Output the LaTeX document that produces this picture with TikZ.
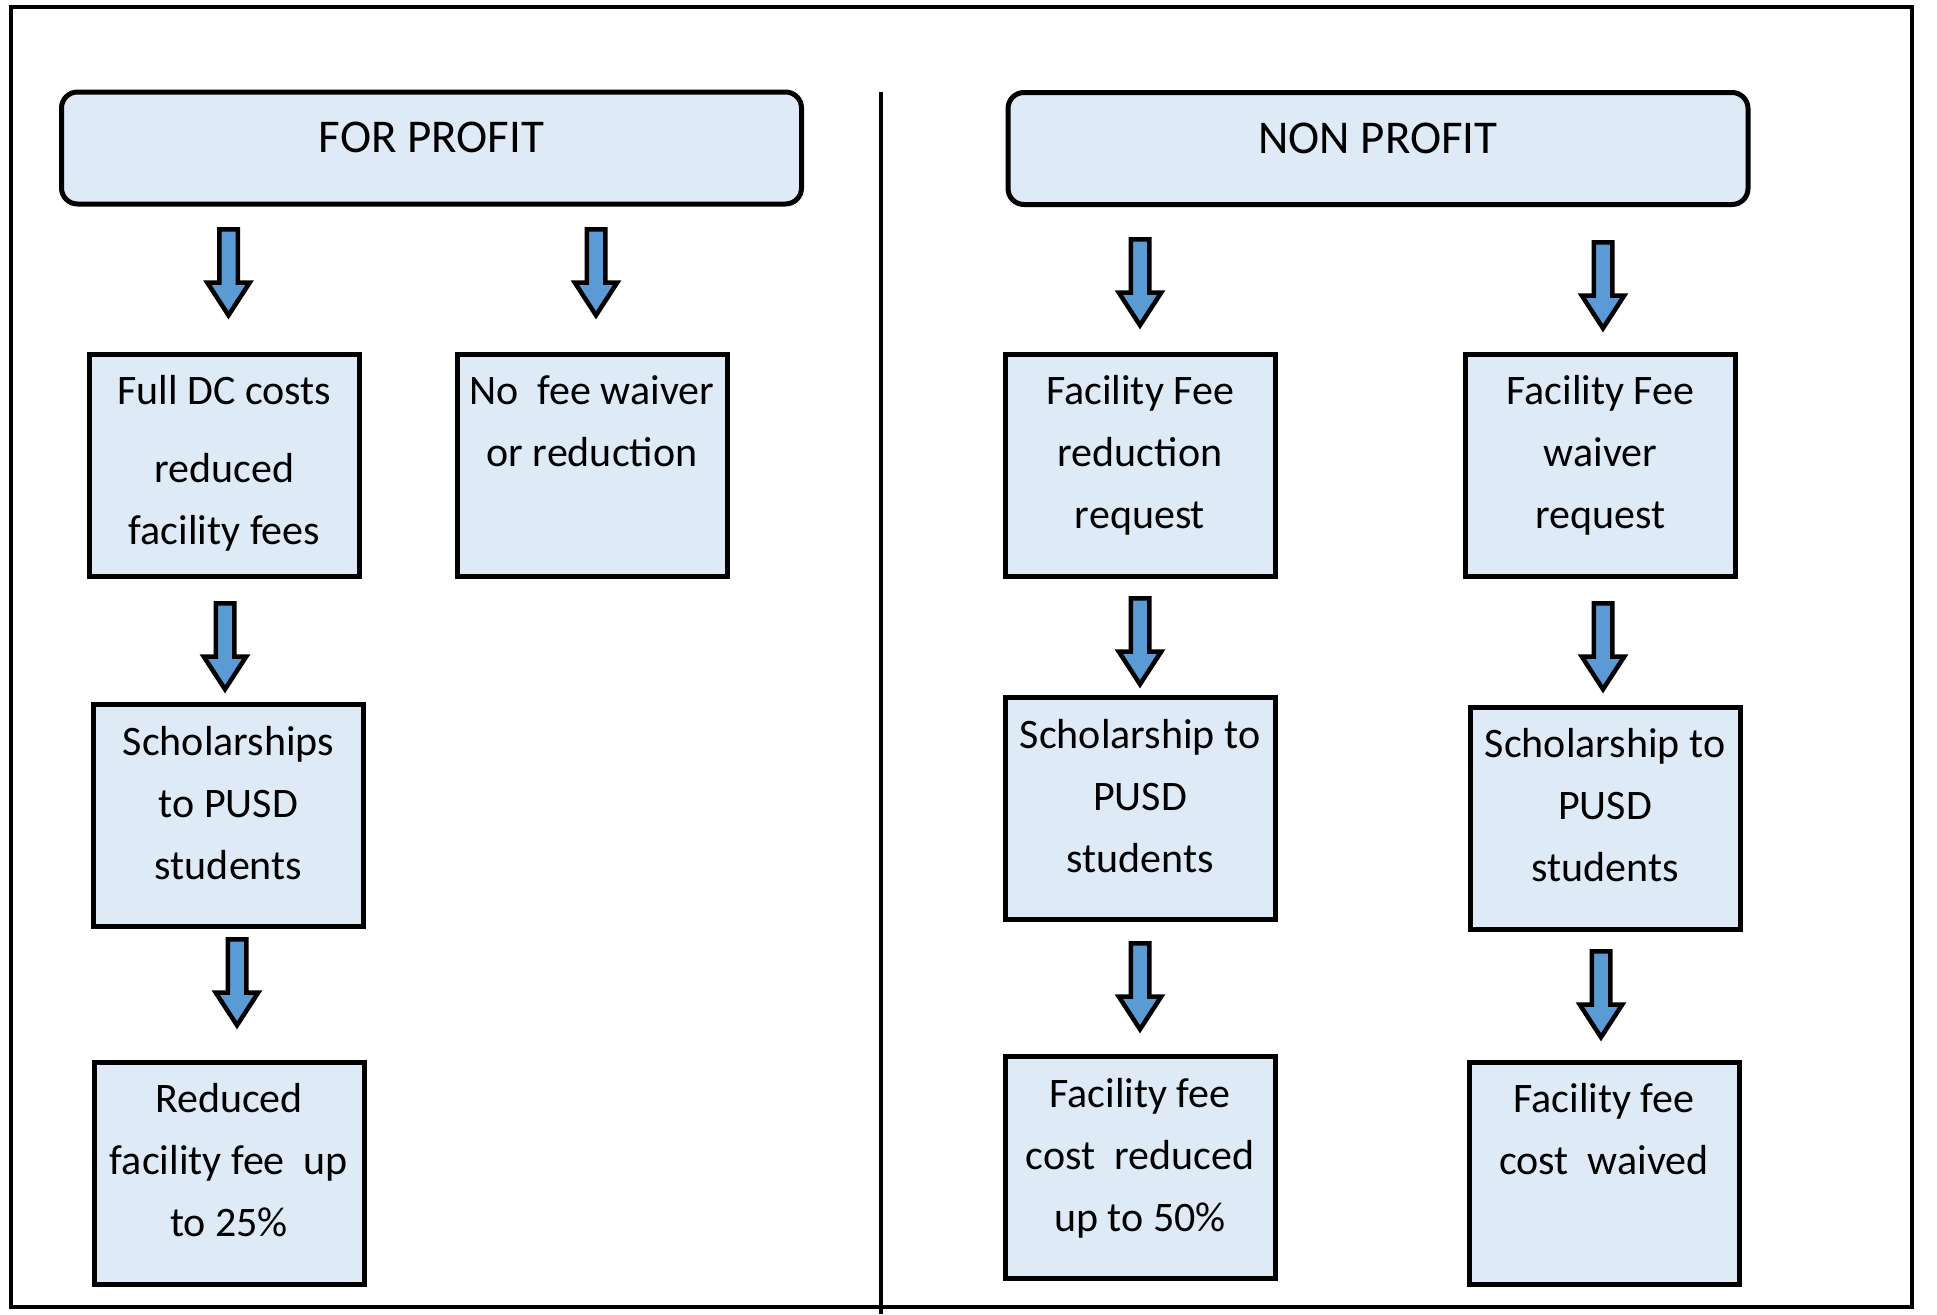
\documentclass[tikz,border=0pt]{standalone}
\usepackage{fontspec}
\setmainfont{Carlito}
\usetikzlibrary{shapes.arrows}
\definecolor{boxblue}{RGB}{222,234,246}
\definecolor{arrowblue}{RGB}{91,155,213}
\newcommand{\headtxt}[1]{\parbox[t][112pt][t]{740pt}{\centering\fontsize{47pt}{56pt}\selectfont\vspace*{21.3pt}\strut #1}}
\newcommand{\boxtxt}[1]{\parbox[t][222pt][t]{270pt}{\centering\fontsize{42pt}{62pt}\selectfont\vspace*{7.1pt}\strut #1}}
\begin{document}
\begin{tikzpicture}[x=1pt,y=-1pt]
       \tikzstyle{headbox}=[draw, line width=5pt, rounded corners=16pt, fill=boxblue, inner sep=0pt, outer sep=0pt]
       \tikzstyle{stepbox}=[draw, line width=5pt, fill=boxblue, inner sep=0pt, outer sep=0pt]
       \tikzstyle{downarrow}=[single arrow, draw, line width=4.5pt, fill=arrowblue, rotate=-90, anchor=tail,
         minimum height=86pt, minimum width=38pt, single arrow head extend=12pt, single arrow tip angle=66,
         inner xsep=0pt, inner ysep=7pt]
       \useasboundingbox (0,0) rectangle (1937,1314);
       \draw[line width=4.5pt] (11,7) rectangle (1912,1307);
       \draw[line width=4pt] (881,92) -- (881,1314);
       % for profit
       \node[headbox] (forprofit) at (431.5,148) {\headtxt{FOR PROFIT}};
       \node[stepbox] (fullcost) at (224.5,465) {\boxtxt{Full DC costs\\[16pt] reduced\\ facility fees}};
       \node[stepbox] (nofee) at (592,465) {\boxtxt{No\ \ fee waiver\\ or reduction}};
       \node[stepbox] (fpschol) at (228.5,815.5) {\boxtxt{Scholarships\\ to PUSD\\ students}};
       \node[stepbox] (fpreduced) at (229,1173) {\boxtxt{Reduced\\ facility fee\ \ up\\ to 25\%}};
       \node[downarrow] (fparr1) at (228.5,227) {};
       \node[downarrow] (fparr2) at (596,227) {};
       \node[downarrow] (fparr3) at (225,601) {};
       \node[downarrow] (fparr4) at (237,937) {};
       % non profit
       \node[headbox] (nonprofit) at (1378,148.5) {\headtxt{NON PROFIT}};
       \node[stepbox] (npreduct) at (1140,465) {\boxtxt{Facility Fee\\ reduction\\ request}};
       \node[stepbox] (npwaiver) at (1600.5,465) {\boxtxt{Facility Fee\\ waiver\\ request}};
       \node[stepbox] (npschola) at (1140,808.5) {\boxtxt{Scholarship to\\ PUSD\\ students}};
       \node[stepbox] (npscholb) at (1605,818) {\boxtxt{Scholarship to\\ PUSD\\ students}};
       \node[stepbox] (npcosta) at (1140,1167.5) {\boxtxt{Facility fee\\ cost\ \ reduced\\ up to 50\%}};
       \node[stepbox] (npcostb) at (1604,1173) {\boxtxt{Facility fee\\ cost\ \ waived}};
       \node[downarrow] (nparr1) at (1140,237) {};
       \node[downarrow] (nparr2) at (1603,240) {};
       \node[downarrow] (nparr3) at (1140,596) {};
       \node[downarrow] (nparr4) at (1603,601) {};
       \node[downarrow] (nparr5) at (1140,941) {};
       \node[downarrow] (nparr6) at (1601,949) {};
\end{tikzpicture}
\end{document}
